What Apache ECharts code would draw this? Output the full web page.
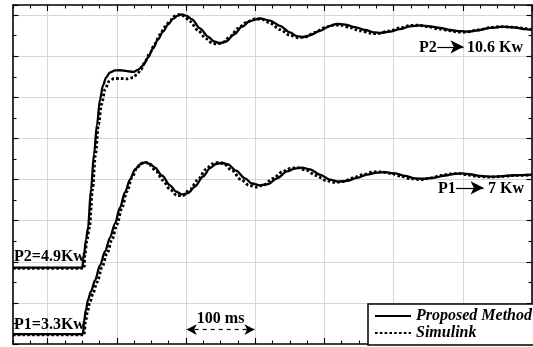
<!DOCTYPE html>
<html>
<head>
<meta charset="utf-8">
<script src="https://cdn.jsdelivr.net/npm/echarts/dist/echarts.min.js"></script>
<style>html,body{margin:0;padding:0;background:#fff}#c{width:533px;height:347px}</style>
</head>
<body>
<div id="c"></div>
<script>
// time axis tick categories (ms), every 25 ms
const timeTicks = ['0','25','50','75','100','125','150','175','200','225','250','275','300','325','350','375','400','425','450','475','500','525','550','575','600','625','650','675','700','725','750'];

// [time ms, power kW]
const p2Proposed = [[0,4.86],[100,4.86],[102,5.10],[105.5,5.54],[108.4,5.83],[112.7,6.76],[117,7.61],[121.4,8.34],[125.7,8.95],[130.1,9.29],[134.4,9.48],[140.2,9.61],[147.4,9.655],[154.6,9.66],[164.7,9.64],[173.4,9.62],[180.6,9.67],[187.9,9.78],[195.1,9.97],[202.3,10.19],[209.5,10.41],[216.8,10.60],[224,10.77],[231.2,10.91],[238.4,10.99],[244.2,11.02],[250,10.99],[258.7,10.90],[270.2,10.68],[281.8,10.48],[290.5,10.36],[299.1,10.32],[307.8,10.36],[319.4,10.53],[330.9,10.72],[342.5,10.86],[356.9,10.92],[371.4,10.87],[385.8,10.74],[400.3,10.58],[410.4,10.49],[419.1,10.47],[429.2,10.51],[443.6,10.62],[458.1,10.74],[468.2,10.79],[479.8,10.77],[494.2,10.71],[508.7,10.64],[523.1,10.58],[530.4,10.57],[544.8,10.60],[559.3,10.66],[573.7,10.73],[588.2,10.75],[602.6,10.73],[617.1,10.69],[631.5,10.64],[646,10.61],[657.5,10.60],[674.9,10.64],[689.3,10.69],[708.1,10.72],[725.4,10.70],[739.9,10.66],[750,10.64]];
const p2Simulink = [[0,4.84],[102.6,4.84],[104,5.18],[106.9,5.54],[110.5,5.83],[114.9,6.76],[119.2,7.61],[123.6,8.34],[127.9,8.83],[133,9.19],[138.7,9.39],[146,9.46],[154.6,9.46],[164.7,9.45],[173.4,9.48],[179.2,9.56],[185,9.68],[190.8,9.87],[198,10.09],[205.2,10.31],[212.4,10.53],[219.7,10.72],[226.9,10.87],[234.1,10.98],[241.3,11.02],[247.1,10.98],[255.8,10.85],[267.3,10.63],[278.9,10.43],[287.6,10.32],[294.8,10.30],[303.5,10.34],[313.6,10.48],[325.2,10.68],[336.7,10.82],[349.7,10.91],[359.8,10.90],[371.4,10.81],[385.8,10.65],[400.3,10.51],[411.9,10.45],[422,10.47],[436.4,10.58],[450.9,10.70],[462.4,10.76],[472.5,10.76],[487,10.70],[501.4,10.62],[518.8,10.555],[527.5,10.555],[544.8,10.62],[559.3,10.69],[573.7,10.75],[585.3,10.76],[599.7,10.72],[617.1,10.66],[631.5,10.62],[643.1,10.59],[654.6,10.59],[672,10.64],[689.3,10.70],[703.8,10.72],[721.1,10.71],[739.9,10.68],[750,10.65]];
const p1Proposed = [[0,3.24],[101.2,3.24],[102.6,3.55],[105.5,3.84],[108.4,4.08],[112.7,4.28],[118.5,4.545],[125.7,4.91],[133,5.25],[140.2,5.59],[147.4,5.93],[154.6,6.32],[161.8,6.69],[169.1,7.00],[176.3,7.25],[183.5,7.37],[190.8,7.42],[198,7.38],[205.2,7.29],[215.3,7.10],[226.9,6.86],[235.5,6.71],[244.2,6.64],[252.9,6.67],[263,6.83],[274.6,7.075],[284.7,7.28],[293.4,7.38],[302,7.41],[310.7,7.37],[322.3,7.22],[335.3,7.03],[345.4,6.905],[356.9,6.86],[368.5,6.89],[381.5,7.03],[396,7.20],[407.5,7.27],[417.6,7.29],[429.2,7.25],[443.6,7.12],[458.1,7.00],[469.7,6.95],[482.7,6.97],[497.1,7.04],[511.6,7.12],[526,7.17],[537.6,7.18],[552,7.15],[566.5,7.09],[580.9,7.03],[595.4,7.02],[609.8,7.05],[624.3,7.10],[638.7,7.14],[648.8,7.15],[660.4,7.13],[674.9,7.09],[693.6,7.07],[711,7.09],[729.8,7.11],[750,7.12]];
const p1Simulink = [[0,3.22],[102.6,3.22],[104.8,3.55],[107.7,3.79],[111.3,4.03],[115.6,4.23],[121.4,4.50],[128.6,4.86],[135.8,5.20],[143.1,5.54],[150.3,5.91],[157.5,6.32],[164.7,6.71],[172,7.05],[179.2,7.29],[186.4,7.40],[192.2,7.42],[198,7.355],[206.6,7.20],[216.8,6.98],[226.9,6.76],[237,6.61],[245.7,6.61],[255.8,6.76],[267.3,7.00],[278.9,7.25],[287.6,7.38],[296.2,7.42],[304.9,7.38],[316.5,7.22],[329.5,7.00],[341,6.86],[351.2,6.82],[362.7,6.87],[375.7,7.03],[390.2,7.20],[401.7,7.28],[411.9,7.29],[423.4,7.23],[437.9,7.10],[452.3,6.98],[463.9,6.93],[476.9,6.95],[491.3,7.04],[505.8,7.12],[520.2,7.185],[531.8,7.19],[546.2,7.15],[560.7,7.08],[575.1,7.02],[589.6,7.00],[604,7.04],[618.5,7.10],[633,7.14],[643.1,7.15],[654.6,7.12],[672,7.075],[689.3,7.06],[706.7,7.075],[725.4,7.10],[750,7.11]];

const seriesNames = ['Proposed Method', 'Simulink'];
const annotationTexts = ['P2=4.9Kw', 'P1=3.3Kw', 'P2', '10.6 Kw', 'P1', '7 Kw'];
const scaleText = '100 ms';

const chart = echarts.init(document.getElementById('c'), null, {renderer: 'canvas'});
const FONT = '"Liberation Serif", "Times New Roman", serif';
const black = '#000';
const gridColor = '#d6d6d6';

function tickXAxis(pos, major, showLine) {
  return {
    type: 'category', data: timeTicks, boundaryGap: false, position: pos,
    axisLine: {show: showLine, onZero: false, lineStyle: {color: black, width: 1.6}},
    axisTick: {show: true, inside: true, length: major ? 6 : 3.5,
      interval: major ? function (i) { return i % 4 === 2; } : 0,
      lineStyle: {color: black, width: 1.1}},
    axisLabel: {show: false},
    splitLine: {show: major && pos === 'bottom', interval: function (i) { return i % 4 === 2 && i < 30; },
      lineStyle: {color: gridColor, width: 1}}
  };
}
function tickYAxis(pos, major, showLine, split) {
  return {
    type: 'value', min: 3, max: 11.248, interval: major ? 1 : 0.5, position: pos,
    axisLine: {show: showLine, onZero: false, lineStyle: {color: black, width: 1.6}},
    axisTick: {show: true, inside: true, length: major ? 5.5 : 3.5, lineStyle: {color: black, width: 1.1}},
    axisLabel: {show: false},
    splitLine: {show: split, showMinLine: false, showMaxLine: false, lineStyle: {color: gridColor, width: 1}}
  };
}
function lineSeries(name, data, dotted, extra) {
  return Object.assign({
    type: 'line', name: name, data: data, xAxisIndex: 0, yAxisIndex: 0,
    symbol: 'none', smooth: 0.3, smoothMonotone: 'x', animation: false,
    lineStyle: {color: black, width: dotted ? 2.8 : 2.3, type: dotted ? [2.6, 2.2] : 'solid', cap: 'butt'},
    itemStyle: {color: black}, z: dotted ? 3 : 2
  }, extra || {});
}

const txt = function (t, x, y) {
  return {type: 'text', x: x, y: y, z: 100,
    style: {text: t, font: 'bold 16px ' + FONT, fill: black, align: 'left', verticalAlign: 'middle'}};
};

const option = {
  animation: false,
  backgroundColor: '#fff',
  grid: {left: 13, right: 1, top: 5, bottom: 3, containLabel: false},
  xAxis: [
    {type: 'value', min: 0, max: 750, show: false, splitLine: {show: false}},
    tickXAxis('bottom', false, true),
    tickXAxis('bottom', true, false),
    tickXAxis('top', false, true),
    tickXAxis('top', true, false)
  ],
  yAxis: [
    tickYAxis('left', true, true, true),
    tickYAxis('left', false, false, false),
    tickYAxis('right', true, true, false),
    tickYAxis('right', false, false, false)
  ],
  legend: {
    data: seriesNames, orient: 'vertical', right: -7, bottom: 2,
    backgroundColor: '#fff', borderColor: black, borderWidth: 1.5,
    padding: [4, 8, 4, 6], itemGap: 1, itemWidth: 36, itemHeight: 14,
    itemStyle: {color: 'rgba(0,0,0,0)', borderWidth: 0, opacity: 0},
    textStyle: {fontFamily: FONT, fontWeight: 'bold', fontStyle: 'italic', fontSize: 16, color: black},
    selectedMode: false, z: 10
  },
  series: [
    lineSeries(seriesNames[0], p2Proposed, false, {
      markLine: {
        silent: true, animation: false, symbol: ['none', 'arrow'], symbolSize: [10, 13],
        lineStyle: {color: black, width: 1.2, type: 'solid'},
        label: {show: false},
        data: [
          [{coord: [613, 10.23]}, {coord: [651, 10.23]}],
          [{coord: [640, 6.8]}, {coord: [680, 6.8]}]
        ]
      }
    }),
    lineSeries(seriesNames[1], p2Simulink, true),
    lineSeries(seriesNames[0], p1Proposed, false, {
      markLine: {
        silent: true, animation: false, symbol: ['arrow', 'arrow'], symbolSize: [8, 10],
        lineStyle: {color: black, width: 1.2, type: [4, 4]},
        label: {show: true, position: 'middle', formatter: scaleText, distance: 3,
          fontFamily: FONT, fontWeight: 'bold', fontSize: 16, color: black},
        data: [
          [{coord: [251, 3.35]}, {coord: [349, 3.35]}]
        ]
      }
    }),
    lineSeries(seriesNames[1], p1Simulink, true)
  ],
  graphic: [
    txt(annotationTexts[0], 14, 256.5),
    txt(annotationTexts[1], 14, 324.5),
    txt(annotationTexts[2], 419, 47.5),
    txt(annotationTexts[3], 467, 47.5),
    txt(annotationTexts[4], 438, 188.5),
    txt(annotationTexts[5], 488, 188.5)
  ]
};
chart.setOption(option);
</script>
</body>
</html>
